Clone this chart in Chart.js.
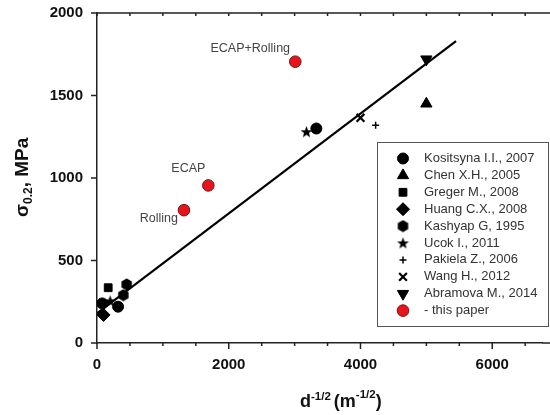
<!DOCTYPE html>
<html>
<head>
<meta charset="utf-8">
<script src="https://cdn.jsdelivr.net/npm/chart.js@4/dist/chart.umd.min.js"></script>
<style>
  html, body { margin: 0; padding: 0; background: #fff; overflow: hidden; }
  canvas { display: block; }
</style>
</head>
<body>
<canvas id="chart" width="550" height="415"></canvas>
<script>
/* ================= DATA ================= */

const seriesNames = [
  "Kositsyna I.I., 2007", "Chen X.H., 2005", "Greger M., 2008", "Huang C.X., 2008",
  "Kashyap G, 1995", "Ucok I., 2011", "Pakiela Z., 2006", "Wang H., 2012",
  "Abramova M., 2014", "- this paper"
];

const kositsyna = [{ x: 3330, y: 1300 }, { x: 320, y: 220 }, { x: 80, y: 240 }];
const chen = [{ x: 5000, y: 1450 }];
const greger = [{ x: 170, y: 335 }];
const huang = [{ x: 100, y: 170 }];
const kashyap = [{ x: 450, y: 355 }, { x: 400, y: 290 }];
const ucok = [{ x: 3180, y: 1280 }, { x: 200, y: 255 }];
const pakiela = [{ x: 4230, y: 1320 }];
const wang = [{ x: 4000, y: 1365 }];
const abramova = [{ x: 5000, y: 1720 }];
const thisPaper = [{ x: 1320, y: 805 }, { x: 1690, y: 955 }, { x: 3010, y: 1705 }];
const paperLabels = ["Rolling", "ECAP", "ECAP+Rolling"];

const fitLine = [{ x: 0, y: 180 }, { x: 5450, y: 1830 }];

const xTicks = [0, 2000, 4000, 6000];
const yTicks = [0, 500, 1000, 1500, 2000];

/* ================= CUSTOM MARKERS ================= */

function makeMarker(size, drawFn) {
  const c = document.createElement("canvas");
  c.width = size; c.height = size;
  const g = c.getContext("2d");
  g.fillStyle = "#000";
  drawFn(g, size / 2);
  return c;
}

const hexagon = makeMarker(13, (g, r) => {
  g.beginPath();
  for (let i = 0; i < 6; i++) {
    const a = Math.PI / 6 + i * Math.PI / 3;
    g.lineTo(r + 6 * Math.cos(a), r + 6 * Math.sin(a));
  }
  g.closePath();
  g.fill();
});

const star = makeMarker(13, (g, r) => {
  g.beginPath();
  for (let i = 0; i < 10; i++) {
    const rad = i % 2 === 0 ? 6.2 : 2.6;
    const a = -Math.PI / 2 + i * Math.PI / 5;
    g.lineTo(r + rad * Math.cos(a), r + 0.5 + rad * Math.sin(a));
  }
  g.closePath();
  g.fill();
});

/* ================= DATASETS ================= */

function pts(label, data, style, radius, extra) {
  return Object.assign({
    label: label,
    data: data,
    pointStyle: style,
    pointRadius: radius,
    pointHoverRadius: radius,
    backgroundColor: "#000",
    borderColor: "#000",
    borderWidth: 1,
    showLine: false
  }, extra || {});
}

const datasets = [
  pts(seriesNames[0], kositsyna, "circle", 5.5),
  pts(seriesNames[1], chen, "triangle", 6.5),
  pts(seriesNames[2], greger, "rect", 5.5),
  pts(seriesNames[3], huang, "rectRot", 6.5),
  pts(seriesNames[4], kashyap, hexagon, 6),
  pts(seriesNames[5], ucok, star, 6),
  pts(seriesNames[6], pakiela, "cross", 3.5, { borderWidth: 1.5 }),
  pts(seriesNames[7], wang, "crossRot", 5.5, { borderWidth: 2.2 }),
  pts(seriesNames[8], abramova, "triangle", 6.5, { rotation: 180 }),
  pts(seriesNames[9], thisPaper, "circle", 5.8, { backgroundColor: "#e8141c", borderColor: "#7a1010", borderWidth: 1 }),
  {
    label: "fit",
    data: fitLine,
    showLine: true,
    borderColor: "#000",
    borderWidth: 2.2,
    pointRadius: 0,
    fill: false
  }
];

/* ================= DECORATION PLUGIN ================= */

const decor = {
  id: "decor",
  afterDraw(chart) {
    const ctx = chart.ctx;
    const xs = chart.scales.x, ys = chart.scales.y;
    const area = chart.chartArea;
    ctx.save();
    ctx.strokeStyle = "#222";
    ctx.lineWidth = 1.5;

    // top frame line, bottom axis continued to the canvas edge
    ctx.beginPath();
    ctx.moveTo(area.left, area.top);
    ctx.lineTo(chart.width, area.top);
    ctx.moveTo(area.right, area.bottom);
    ctx.lineTo(chart.width, area.bottom);
    ctx.stroke();

    // x ticks (bottom outward, top inward)
    for (let v = 0; v <= 7000; v += 500) {
      const px = xs.getPixelForValue(v);
      if (px > chart.width) break;
      const len = v % 2000 === 0 ? 6 : 3;
      ctx.beginPath();
      ctx.moveTo(px, area.bottom);
      ctx.lineTo(px, area.bottom + len);
      ctx.moveTo(px, area.top);
      ctx.lineTo(px, area.top + 3);
      ctx.stroke();
    }
    // y ticks (outward)
    for (let v = 0; v <= 2000; v += 500) {
      const py = ys.getPixelForValue(v);
      ctx.beginPath();
      ctx.moveTo(area.left, py);
      ctx.lineTo(area.left - 6, py);
      ctx.stroke();
    }

    // point annotations
    ctx.fillStyle = "#444";
    ctx.font = "12.5px Arial, 'Liberation Sans', sans-serif";
    ctx.textBaseline = "middle";
    ctx.textAlign = "right";
    const pR = thisPaper[0];
    ctx.fillText(paperLabels[0], xs.getPixelForValue(pR.x) - 6, ys.getPixelForValue(pR.y) + 8);
    ctx.textAlign = "center";
    const pE = thisPaper[1];
    ctx.fillText(paperLabels[1], xs.getPixelForValue(pE.x) - 20, ys.getPixelForValue(pE.y) - 17);
    const pER = thisPaper[2];
    ctx.fillText(paperLabels[2], xs.getPixelForValue(pER.x) - 45, ys.getPixelForValue(pER.y) - 13);

    // legend box
    const lx = 377, ly = 142, lw = 173, lh = 185;
    ctx.strokeStyle = "#555";
    ctx.lineWidth = 1;
    ctx.fillStyle = "#fff";
    ctx.fillRect(lx, ly, lw, lh);
    ctx.strokeRect(lx + 0.5, ly + 0.5, lw - 2, lh - 1);
    ctx.textAlign = "left";
    ctx.font = "13px Arial, 'Liberation Sans', sans-serif";
    for (let i = 0; i < 10; i++) {
      const ds = chart.data.datasets[i];
      const ry = 158.5 + i * 16.9;
      ctx.fillStyle = ds.backgroundColor;
      ctx.strokeStyle = ds.borderColor;
      ctx.lineWidth = ds.borderWidth;
      Chart.helpers.drawPoint(ctx, {
        pointStyle: ds.pointStyle,
        radius: ds.pointRadius,
        rotation: ds.rotation || 0,
        borderWidth: ds.borderWidth
      }, 403, ry);
      ctx.fillStyle = "#333";
      ctx.fillText(ds.label, 424, ry);
    }

    // y axis title: sigma_0.2, MPa
    ctx.save();
    ctx.translate(28, 176);
    ctx.rotate(-Math.PI / 2);
    ctx.fillStyle = "#111";
    ctx.textAlign = "left";
    ctx.textBaseline = "alphabetic";
    let tx = -41;
    ctx.font = "bold 19px Arial, 'Liberation Sans', sans-serif";
    ctx.fillText("σ", tx, 0); tx += ctx.measureText("σ").width;
    ctx.font = "bold 12px Arial, 'Liberation Sans', sans-serif";
    ctx.fillText("0.2", tx, 4); tx += ctx.measureText("0.2").width;
    ctx.font = "bold 19px Arial, 'Liberation Sans', sans-serif";
    ctx.fillText(", MPa", tx, 0);
    ctx.restore();

    // x axis title: d^-1/2 (m^-1/2)
    ctx.fillStyle = "#111";
    ctx.textBaseline = "alphabetic";
    let bx = 300;
    const by = 407;
    const big = "bold 18px Arial, 'Liberation Sans', sans-serif";
    const sup = "bold 11.5px Arial, 'Liberation Sans', sans-serif";
    ctx.font = big; ctx.fillText("d", bx, by); bx += ctx.measureText("d").width;
    ctx.font = sup; ctx.fillText("-1/2", bx, by - 7); bx += ctx.measureText("-1/2").width + 3;
    ctx.font = big; ctx.fillText("(m", bx, by); bx += ctx.measureText("(m").width;
    ctx.font = sup; ctx.fillText("-1/2", bx, by - 9); bx += ctx.measureText("-1/2").width;
    ctx.font = big; ctx.fillText(")", bx, by);

    ctx.restore();
  }
};

/* ================= CHART ================= */

const tickFont = { family: "Arial, 'Liberation Sans', sans-serif", size: 15, weight: "bold" };

new Chart(document.getElementById("chart"), {
  type: "scatter",
  data: { datasets: datasets },
  options: {
    responsive: false,
    animation: false,
    events: [],
    layout: { padding: { top: 13, right: 0, left: 0, bottom: 0 } },
    plugins: {
      legend: { display: false },
      tooltip: { enabled: false }
    },
    scales: {
      x: {
        type: "linear",
        min: 0,
        max: 6760,
        afterBuildTicks: s => { s.ticks = xTicks.map(v => ({ value: v })); },
        afterFit: s => { s.height = 72; },
        grid: { display: false, drawTicks: false },
        border: { display: true, color: "#222", width: 1.5 },
        ticks: {
          padding: 13,
          color: "#111",
          font: tickFont,
          maxRotation: 0,
          callback: v => String(v)
        }
      },
      y: {
        type: "linear",
        min: 0,
        max: 2000,
        afterBuildTicks: s => { s.ticks = yTicks.map(v => ({ value: v })); },
        afterFit: s => { s.width = 97; s.paddingTop = 0; s.paddingBottom = 0; },
        grid: { display: false, drawTicks: false },
        border: { display: true, color: "#222", width: 1.5 },
        ticks: {
          padding: 14,
          color: "#111",
          font: tickFont,
          callback: v => String(v)
        }
      }
    }
  },
  plugins: [decor]
});
</script>
</body>
</html>
